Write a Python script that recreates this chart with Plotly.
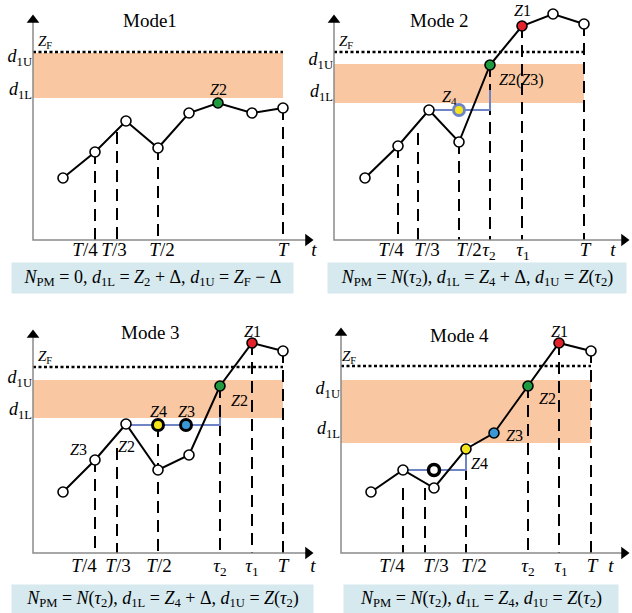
import plotly.graph_objects as go

W, H = 632, 613
SERIF = "Liberation Serif"

# ---------------- data (panel units: t to the right, Z upward) ----------------
titles = ["Mode1", "Mode 2", "Mode 3", "Mode 4"]

m1_t = [30, 62, 93, 125, 156, 185, 219, 250]
m1_z = [62, 88, 119, 92, 127, 137, 127, 132]
m2_t = [31, 64, 95, 125, 156, 188, 219, 250]
m2_z = [62, 94, 130, 98, 175, 214, 226, 216]
m3_t = [30, 62, 93, 125, 156, 187, 219, 250]
m3_z = [61, 93, 129, 83, 98, 167, 210, 202]
m4_t = [30, 62, 93, 125, 153, 187, 218, 250]
m4_z = [61, 83, 65, 104, 120, 167, 210, 202]

# Z_F level and band (d1L, d1U)
zf_levels = [188, 188, 186, 187]
d1L_levels = [142, 137, 135, 110]
d1U_levels = [187, 176, 173, 173]
t_end = [250, 250, 250, 250]

# level-label positions on the Z axis (d1U, d1L)
ylab_z = [(181, 148), (178, 146), (173, 141), (162, 122)]

# time tick label positions and texts
m1_tick_t = [52, 81, 129, 250, 281]
m1_tick_s = ["<i>T</i>/4", "<i>T</i>/3", "<i>T</i>/2", "<i>T</i>", "<i>t</i>"]
m2_tick_t = [57, 93, 135, 155, 189, 251, 279]
m2_tick_s = ["<i>T</i>/4", "<i>T</i>/3", "<i>T</i>/2", "<i>τ</i><sub>2</sub>", "<i>τ</i><sub>1</sub>", "<i>T</i>", "<i>t</i>"]
m3_tick_t = [51, 85, 126, 187, 219, 250, 280]
m3_tick_s = ["<i>T</i>/4", "<i>T</i>/3", "<i>T</i>/2", "<i>τ</i><sub>2</sub>", "<i>τ</i><sub>1</sub>", "<i>T</i>", "<i>t</i>"]
m4_tick_t = [51, 95, 133, 187, 220, 251, 270]
m4_tick_s = ["<i>T</i>/4", "<i>T</i>/3", "<i>T</i>/2", "<i>τ</i><sub>2</sub>", "<i>τ</i><sub>1</sub>", "<i>T</i>", "<i>t</i>"]

# dashed guide lines: t position and top Z
m1_guide_t = [62, 84, 125, 250]
m1_guide_z = [88, 108, 92, 132]
m2_guide_t = [64, 84, 125, 156, 188, 250]
m2_guide_z = [94, 107, 98, 175, 214, 216]
m3_guide_t = [62, 84, 125, 187, 219, 250]
m3_guide_z = [93, 105, 128, 167, 210, 202]
m4_guide_t = [62, 84, 125, 187, 218, 250]
m4_guide_z = [65, 65, 104, 167, 210, 202]

# blue step lines
m2_step_t = [95, 156, 156]
m2_step_z = [130, 130, 150]
m3_step_t = [93, 187, 187]
m3_step_z = [128, 128, 136]
m4_step_t = [62, 125, 125]
m4_step_z = [83, 83, 104]

# point labels (text, t, Z)
m1_lab = [("<i>Z</i>2", 185, 151)]
m2_lab = [("<i>Z</i>1", 188, 230), ("<i>Z</i>2(<i>Z</i>3)", 187, 160), ("<i>Z</i><sub>4</sub>", 115, 143)]
m3_lab = [("<i>Z</i>3", 45, 104), ("<i>Z</i>2", 93, 107), ("<i>Z</i>4", 125, 142), ("<i>Z</i>3", 153, 142),
          ("<i>Z</i>2", 206, 153), ("<i>Z</i>1", 219, 222)]
m4_lab = [("<i>Z</i>1", 218, 222), ("<i>Z</i>2", 206, 155), ("<i>Z</i>3", 173, 118), ("<i>Z</i>4", 138, 90)]

formulas = [
    "<i>N</i><sub>PM</sub> = 0, <i>d</i><sub>1L</sub> = <i>Z</i><sub>2</sub> + Δ, <i>d</i><sub>1U</sub> = <i>Z</i><sub>F</sub> − Δ",
    "<i>N</i><sub>PM</sub> = <i>N</i>(<i>τ</i><sub>2</sub>), <i>d</i><sub>1L</sub> = <i>Z</i><sub>4</sub> + Δ, <i>d</i><sub>1U</sub> = <i>Z</i>(<i>τ</i><sub>2</sub>)",
    "<i>N</i><sub>PM</sub> = <i>N</i>(<i>τ</i><sub>2</sub>), <i>d</i><sub>1L</sub> = <i>Z</i><sub>4</sub> + Δ, <i>d</i><sub>1U</sub> = <i>Z</i>(<i>τ</i><sub>2</sub>)",
    "<i>N</i><sub>PM</sub> = <i>N</i>(<i>τ</i><sub>2</sub>), <i>d</i><sub>1L</sub> = <i>Z</i><sub>4</sub>, <i>d</i><sub>1U</sub> = <i>Z</i>(<i>τ</i><sub>2</sub>)",
]

# ---------------- styling / layout ----------------
RED, GREEN, YELLOW, BLUE = "#e3222b", "#1f9a3e", "#f4e31c", "#3b98d6"
STEP = "#6f84c4"
BAND = "#f9c8a2"
BOX = "#d5e9ef"
AXIS = "#8a8a8a"
PAD = 6

panels = [
    dict(ox=33, oy=240, w=283, h=240, tipx=280, tipy=225, title=(117, 220), zf=(12, 198), lab_dy=4),
    dict(ox=334, oy=240, w=298, h=240, tipx=295, tipy=225, title=(105, 220), zf=(12, 198), lab_dy=4),
    dict(ox=33, oy=553, w=283, h=253, tipx=280, tipy=223, title=(117, 221), zf=(12, 196), lab_dy=1),
    dict(ox=341, oy=553, w=291, h=253, tipx=288, tipy=225, title=(118, 218), zf=(8, 196), lab_dy=1),
]
series = [(m1_t, m1_z), (m2_t, m2_z), (m3_t, m3_z), (m4_t, m4_z)]
highlights = [{5: GREEN}, {4: GREEN, 5: RED}, {5: GREEN, 6: RED}, {3: YELLOW, 4: BLUE, 5: GREEN, 6: RED}]
ticks = [(m1_tick_t, m1_tick_s), (m2_tick_t, m2_tick_s), (m3_tick_t, m3_tick_s), (m4_tick_t, m4_tick_s)]
guides = [(m1_guide_t, m1_guide_z), (m2_guide_t, m2_guide_z), (m3_guide_t, m3_guide_z), (m4_guide_t, m4_guide_z)]
steps = [None, (m2_step_t, m2_step_z), (m3_step_t, m3_step_z), (m4_step_t, m4_step_z)]
labels = [m1_lab, m2_lab, m3_lab, m4_lab]
boxes = [(152.5, 278, 281, 30), (477, 278, 298, 30), (162.5, 599, 301, 28), (481, 599, 274, 28)]

fig = go.Figure()
layout = dict(width=W, height=H, margin=dict(l=0, r=0, t=0, b=0), template="none",
              paper_bgcolor="white", plot_bgcolor="rgba(0,0,0,0)", showlegend=False)
shapes, annots = [], []

for i, p in enumerate(panels):
    k = "" if i == 0 else str(i + 1)
    xr, yr = "x" + k, "y" + k
    tt, ts = ticks[i]
    layout["xaxis" + k] = dict(domain=[(p["ox"] - PAD) / W, (p["ox"] + p["w"]) / W], range=[-PAD, p["w"]],
                               anchor="free", position=(H - p["oy"] + p["lab_dy"]) / H,
                               showgrid=False, zeroline=False, showline=False, ticks="",
                               tickvals=tt, ticktext=ts, tickangle=0, ticklabelstandoff=0,
                               tickfont=dict(family=SERIF, size=19, color="black"), automargin=False,
                               fixedrange=True)
    layout["yaxis" + k] = dict(domain=[(H - p["oy"] - PAD) / H, (H - p["oy"] + p["h"]) / H],
                               range=[-PAD, p["h"]], anchor="free", position=p["ox"] / W,
                               showgrid=False, zeroline=False, showline=False, ticks="",
                               tickvals=[ylab_z[i][0] + 3, ylab_z[i][1] + 3],
                               ticktext=["<i>d</i><sub>1U</sub>", "<i>d</i><sub>1L</sub>"],
                               ticklabelstandoff=1,
                               tickfont=dict(family=SERIF, size=18, color="black"), automargin=False,
                               fixedrange=True)
    # band
    shapes.append(dict(type="rect", xref=xr, yref=yr, x0=0, x1=t_end[i], y0=d1L_levels[i], y1=d1U_levels[i],
                       fillcolor=BAND, line=dict(width=0), layer="below"))
    # dashed guides
    gx, gy = [], []
    for gt, gz in zip(*guides[i]):
        gx += [gt, gt, None]
        gy += [gz, 0, None]
    fig.add_trace(go.Scatter(x=gx, y=gy, xaxis=xr, yaxis=yr, mode="lines",
                             line=dict(color="black", width=2, dash="12px,7px"), hoverinfo="skip"))
    # Z_F line
    fig.add_trace(go.Scatter(x=[0, t_end[i]], y=[zf_levels[i]] * 2, xaxis=xr, yaxis=yr, mode="lines",
                             line=dict(color="black", width=2.5, dash="3px,2.5px"), hoverinfo="skip"))
    # axes
    fig.add_trace(go.Scatter(x=[p["tipx"] - 4, 0, 0], y=[0, 0, p["tipy"] - 4], xaxis=xr, yaxis=yr, mode="lines",
                             line=dict(color=AXIS, width=1.5), hoverinfo="skip"))
    fig.add_trace(go.Scatter(x=[p["tipx"] - 5, 0], y=[0, p["tipy"] - 5], xaxis=xr, yaxis=yr, mode="markers",
                             marker=dict(symbol=["triangle-right", "triangle-up"], size=11, color="black",
                                         line=dict(width=0)), hoverinfo="skip", cliponaxis=False))
    # step line
    if steps[i] is not None:
        fig.add_trace(go.Scatter(x=steps[i][0], y=steps[i][1], xaxis=xr, yaxis=yr, mode="lines",
                                 line=dict(color=STEP, width=2), hoverinfo="skip"))
    # trajectory
    t, z = series[i]
    fills = [highlights[i].get(j, "white") for j in range(len(t))]
    fig.add_trace(go.Scatter(x=t, y=z, xaxis=xr, yaxis=yr, mode="lines+markers",
                             line=dict(color="black", width=2),
                             marker=dict(size=10, color=fills, line=dict(color="black", width=1.6)),
                             hoverinfo="skip", cliponaxis=False))
    # title
    annots.append(dict(xref=xr, yref=yr, x=p["title"][0], y=p["title"][1], text=titles[i], showarrow=False,
                       font=dict(family=SERIF, size=19, color="black")))
    annots.append(dict(xref=xr, yref=yr, x=p["zf"][0], y=p["zf"][1], text="<i>Z</i><sub>F</sub>",
                       showarrow=False, font=dict(family=SERIF, size=15, color="black")))
    for txt, lx, ly in labels[i]:
        annots.append(dict(xref=xr, yref=yr, x=lx, y=ly, text=txt, showarrow=False,
                           font=dict(family=SERIF, size=16, color="black")))
    cx, cy, bw, bh = boxes[i]
    annots.append(dict(xref="paper", yref="paper", x=cx / W, y=1 - cy / H, xanchor="center", yanchor="middle",
                       text=formulas[i], showarrow=False, width=bw, height=bh, bgcolor=BOX, borderpad=0,
                       font=dict(family=SERIF, size=18, color="black")))

# special markers
fig.add_trace(go.Scatter(x=[125], y=[130], xaxis="x2", yaxis="y2", mode="markers",
                         marker=dict(size=11, color=YELLOW, line=dict(color=STEP, width=3)), hoverinfo="skip"))
fig.add_trace(go.Scatter(x=[125, 153], y=[128, 128], xaxis="x3", yaxis="y3", mode="markers",
                         marker=dict(size=11, color=[YELLOW, BLUE], line=dict(color="black", width=3)),
                         hoverinfo="skip"))
fig.add_trace(go.Scatter(x=[93], y=[83], xaxis="x4", yaxis="y4", mode="markers",
                         marker=dict(size=11, color="white", line=dict(color="black", width=3.5)),
                         hoverinfo="skip"))

layout["shapes"] = shapes
layout["annotations"] = annots
fig.update_layout(**layout)
fig.write_html("out.html", config={"displayModeBar": False},
               post_script="document.body.style.margin='0';")
